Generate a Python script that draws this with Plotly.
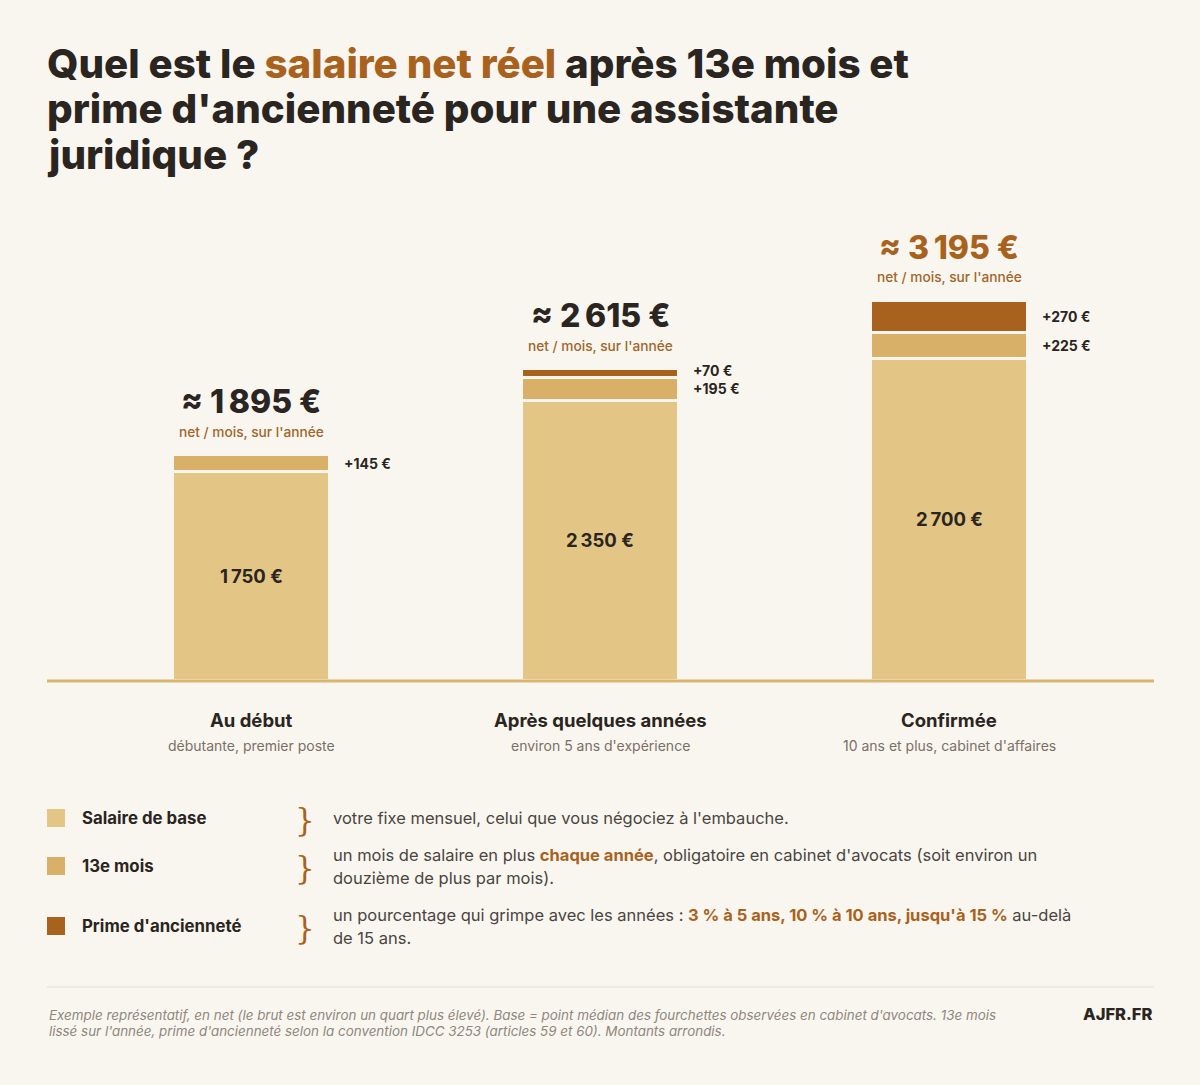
import plotly.graph_objects as go

# ---------------- data ----------------
categories = ["Au début", "Après quelques années", "Confirmée"]
category_notes = ["débutante, premier poste", "environ 5 ans d'expérience", "10 ans et plus, cabinet d'affaires"]
base_salary = [1750, 2350, 2700]
thirteenth_month = [145, 195, 225]
seniority_bonus = [0, 70, 270]
totals = [1895, 2615, 3195]

legend_names = ["Salaire de base", "13e mois", "Prime d'ancienneté"]

# ---------------- style ----------------
W, H = 1200, 1085
BG = "#f9f6f0"
C_BASE = "#e3c585"
C_13 = "#d9b067"
C_PRIME = "#a8621e"
ORANGE = "#a8621e"
DARK = "#2a2520"
GREY = "#7a7066"
TEXT = "#4a4540"
FONT = "Inter"

X0, X1 = 47, 1154       # plot area in pixels
Y_TOP, Y_BASE = 200, 680
PX_PER_EUR = 380 / 3195
YMAX = (Y_BASE - Y_TOP) / PX_PER_EUR
PX_PER_CAT = 349
left_units = (251 - X0) / PX_PER_CAT
right_units = (X1 - X0) / PX_PER_CAT - left_units
BAR_W = 157 / PX_PER_CAT


def px(x):
    return x / W


def py(y):
    return 1 - y / H


def fmt(v):
    return f"{v:,}".replace(",", "\u202f")


xs = list(range(len(categories)))
fig = go.Figure()
for name, vals, col in [
    (legend_names[0], base_salary, C_BASE),
    (legend_names[1], thirteenth_month, C_13),
    (legend_names[2], seniority_bonus, C_PRIME),
]:
    fig.add_trace(go.Bar(
        x=xs, y=[v if v else None for v in vals], name=name, width=BAR_W,
        marker=dict(color=col, line=dict(color=BG, width=3)),
        hoverinfo="skip", showlegend=False,
    ))

ann = []
shapes = []

# totals above bars
for i, t in enumerate(totals):
    col = ORANGE if i == len(totals) - 1 else DARK
    ann.append(dict(x=i, y=t, xref="x", yref="y", yshift=53, showarrow=False,
                    text=f"≈ {fmt(t)} €", font=dict(family=FONT, size=32, color=col, weight=800),
                    xanchor="center", yanchor="middle"))
    ann.append(dict(x=i, y=t, xref="x", yref="y", yshift=23, showarrow=False,
                    text="net / mois, sur l'année",
                    font=dict(family=FONT, size=13.7, color="#a0662a", weight=500),
                    xanchor="center", yanchor="middle"))
    # base label inside
    ann.append(dict(x=i, y=base_salary[i] / 2, xref="x", yref="y", showarrow=False,
                    text=f"{fmt(base_salary[i])} €", font=dict(family=FONT, size=18.5, color=DARK, weight=700),
                    xanchor="center", yanchor="middle"))
    # 13e label
    ann.append(dict(x=i + BAR_W / 2, y=base_salary[i] + thirteenth_month[i] / 2, xref="x", yref="y",
                    xshift=12, showarrow=False,
                    text=f"+{thirteenth_month[i]} €", font=dict(family=FONT, size=14, color=DARK, weight=700),
                    xanchor="left", yanchor="middle"))
    if seniority_bonus[i]:
        ann.append(dict(x=i + BAR_W / 2,
                        y=base_salary[i] + thirteenth_month[i] + seniority_bonus[i] / 2,
                        xref="x", yref="y", xshift=12, yshift=3 if seniority_bonus[i] < 100 else 0,
                        showarrow=False,
                        text=f"+{seniority_bonus[i]} €", font=dict(family=FONT, size=14, color=DARK, weight=700),
                        xanchor="left", yanchor="middle"))
    # category labels
    ann.append(dict(x=i, y=py(720), xref="x", yref="paper", showarrow=False,
                    text=categories[i], font=dict(family=FONT, size=18.5, color=DARK, weight=700),
                    xanchor="center", yanchor="middle"))
    ann.append(dict(x=i, y=py(745), xref="x", yref="paper", showarrow=False,
                    text=category_notes[i], font=dict(family=FONT, size=14, color=GREY),
                    xanchor="center", yanchor="middle"))

# baseline
shapes.append(dict(type="line", xref="paper", yref="paper", x0=px(X0), x1=px(X1),
                   y0=py(Y_BASE + 1), y1=py(Y_BASE + 1), line=dict(color="#d9b56e", width=3), layer="above"))

# title
title_lines = [
    f"Quel est le <span style='color:{ORANGE}'>salaire net réel</span> après 13e mois et",
    "prime d'ancienneté pour une assistante",
    "juridique ?",
]
for k, (line, yy) in enumerate(zip(title_lines, [63, 109, 155])):
    ann.append(dict(x=px(X0 - 2), y=py(yy), xref="paper", yref="paper", showarrow=False,
                    text=line, font=dict(family=FONT, size=40.3, color=DARK, weight=800),
                    xanchor="left", yanchor="middle"))

# legend block
legend_rows = [
    (C_BASE, legend_names[0], 818, ["votre fixe mensuel, celui que vous négociez à l'embauche."], [818]),
    (C_13, legend_names[1], 866,
     [f"un mois de salaire en plus <b><span style='color:{ORANGE}'>chaque année</span></b>, obligatoire en cabinet d'avocats (soit environ un",
      "douzième de plus par mois)."], [855, 878]),
    (C_PRIME, legend_names[2], 926,
     [f"un pourcentage qui grimpe avec les années : <b><span style='color:{ORANGE}'>3 % à 5 ans, 10 % à 10 ans, jusqu'à 15 %</span></b> au-delà",
      "de 15 ans."], [915, 938]),
]
for col, name, yc, lines, ys in legend_rows:
    shapes.append(dict(type="rect", xref="paper", yref="paper", x0=px(47), x1=px(65),
                       y0=py(yc + 9), y1=py(yc - 9), fillcolor=col, line=dict(width=0)))
    ann.append(dict(x=px(80), y=py(yc), xref="paper", yref="paper", showarrow=False,
                    text=name, font=dict(family=FONT, size=16.8, color=DARK, weight=700),
                    xanchor="left", yanchor="middle"))
    ann.append(dict(x=px(305), y=py(yc + 2), xref="paper", yref="paper", showarrow=False,
                    text="}", font=dict(family="DejaVu Serif", size=31, color=ORANGE),
                    xanchor="center", yanchor="middle"))
    for line, yy in zip(lines, ys):
        ann.append(dict(x=px(331), y=py(yy), xref="paper", yref="paper", showarrow=False,
                        text=line, font=dict(family=FONT, size=16.5, color=TEXT),
                        xanchor="left", yanchor="middle"))

# separator and footer
shapes.append(dict(type="line", xref="paper", yref="paper", x0=px(47), x1=px(1154),
                   y0=py(987), y1=py(987), line=dict(color="#e3ddd2", width=1)))
footer = [
    "Exemple représentatif, en net (le brut est environ un quart plus élevé). Base = point médian des fourchettes observées en cabinet d'avocats. 13e mois",
    "lissé sur l'année, prime d'ancienneté selon la convention IDCC 3253 (articles 59 et 60). Montants arrondis.",
]
for line, yy in zip(footer, [1015, 1031]):
    ann.append(dict(x=px(47), y=py(yy), xref="paper", yref="paper", showarrow=False,
                    text=line, font=dict(family=FONT, size=13.4, color="#8f877d", style="italic"),
                    xanchor="left", yanchor="middle"))
ann.append(dict(x=px(1154), y=py(1014), xref="paper", yref="paper", showarrow=False,
                text="AJFR.FR", font=dict(family=FONT, size=16.5, color=DARK, weight=800),
                xanchor="right", yanchor="middle"))

fig.update_layout(
    width=W, height=H, barmode="stack",
    paper_bgcolor=BG, plot_bgcolor=BG,
    margin=dict(l=0, r=0, t=0, b=0),
    xaxis=dict(domain=[px(X0), px(X1)], range=[-left_units, right_units], visible=False, fixedrange=True),
    yaxis=dict(domain=[py(Y_BASE), py(Y_TOP)], range=[0, YMAX], visible=False, fixedrange=True),
    annotations=ann, shapes=shapes, showlegend=False,
    font=dict(family=FONT),
)

fig.write_html("out.html")
